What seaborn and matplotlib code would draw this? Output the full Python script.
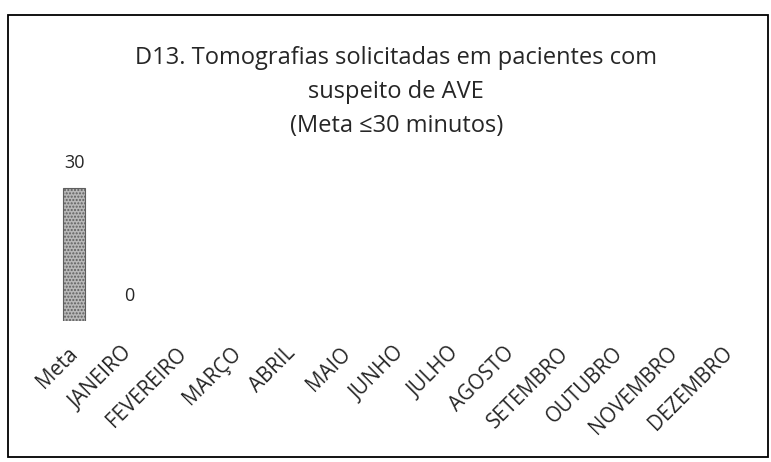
import numpy as np
import pandas as pd
import matplotlib
matplotlib.use("Agg")
import matplotlib.pyplot as plt
import seaborn as sns
from matplotlib.patches import Rectangle

# --- dados ---
categorias = ['Meta', 'JANEIRO', 'FEVEREIRO', 'MARÇO', 'ABRIL', 'MAIO', 'JUNHO',
              'JULHO', 'AGOSTO', 'SETEMBRO', 'OUTUBRO', 'NOVEMBRO', 'DEZEMBRO']
valores = [30, 0, np.nan, np.nan, np.nan, np.nan, np.nan,
           np.nan, np.nan, np.nan, np.nan, np.nan, np.nan]
titulo = 'D13. Tomografias solicitadas em pacientes com\nsuspeito de AVE\n(Meta ≤30 minutos)'

df = pd.DataFrame({'mes': categorias, 'valor': valores})

sns.set_style("white")
plt.rcParams['font.family'] = ['Open Sans', 'DejaVu Sans']

fig = plt.figure(figsize=(7.71, 4.62), dpi=100)
ax = fig.add_axes([0.061, 0.305, 0.92, 0.383])

sns.barplot(data=df, x='mes', y='valor', ax=ax, width=0.4,
            color='#b8b8b8', linewidth=0.8,
            hatch='.....', order=categorias)
for p in ax.patches:
    p.set_edgecolor('#5e5e5e')
    if p.get_height() == 0:
        p.set_linewidth(0)

ax.set_ylim(0, 40)
ax.set_xlim(-0.5, len(categorias) - 0.5)
ax.set_xlabel('')
ax.set_ylabel('')
ax.set_yticks([])
for s in ax.spines.values():
    s.set_visible(False)

# rótulos de dados
for i, v in enumerate(valores):
    if not np.isnan(v):
        ax.annotate(f'{int(v)}', (i, v), xytext=(0, 18), textcoords='offset points',
                    ha='center', va='center', fontsize=13)

ax.tick_params(axis='x', length=0, pad=21)
plt.setp(ax.get_xticklabels(), rotation=45, ha='right', va='center',
         rotation_mode='anchor', fontsize=14.8)

fig.text(0.514, 0.80, titulo, ha='center', va='center', fontsize=17,
         linespacing=1.55)

# moldura do gráfico
fig.patches.append(Rectangle((0.011, 0.01), 0.985, 0.958, transform=fig.transFigure,
                             fill=False, edgecolor='black', linewidth=1.3))

fig.savefig('out.png', dpi=100)
